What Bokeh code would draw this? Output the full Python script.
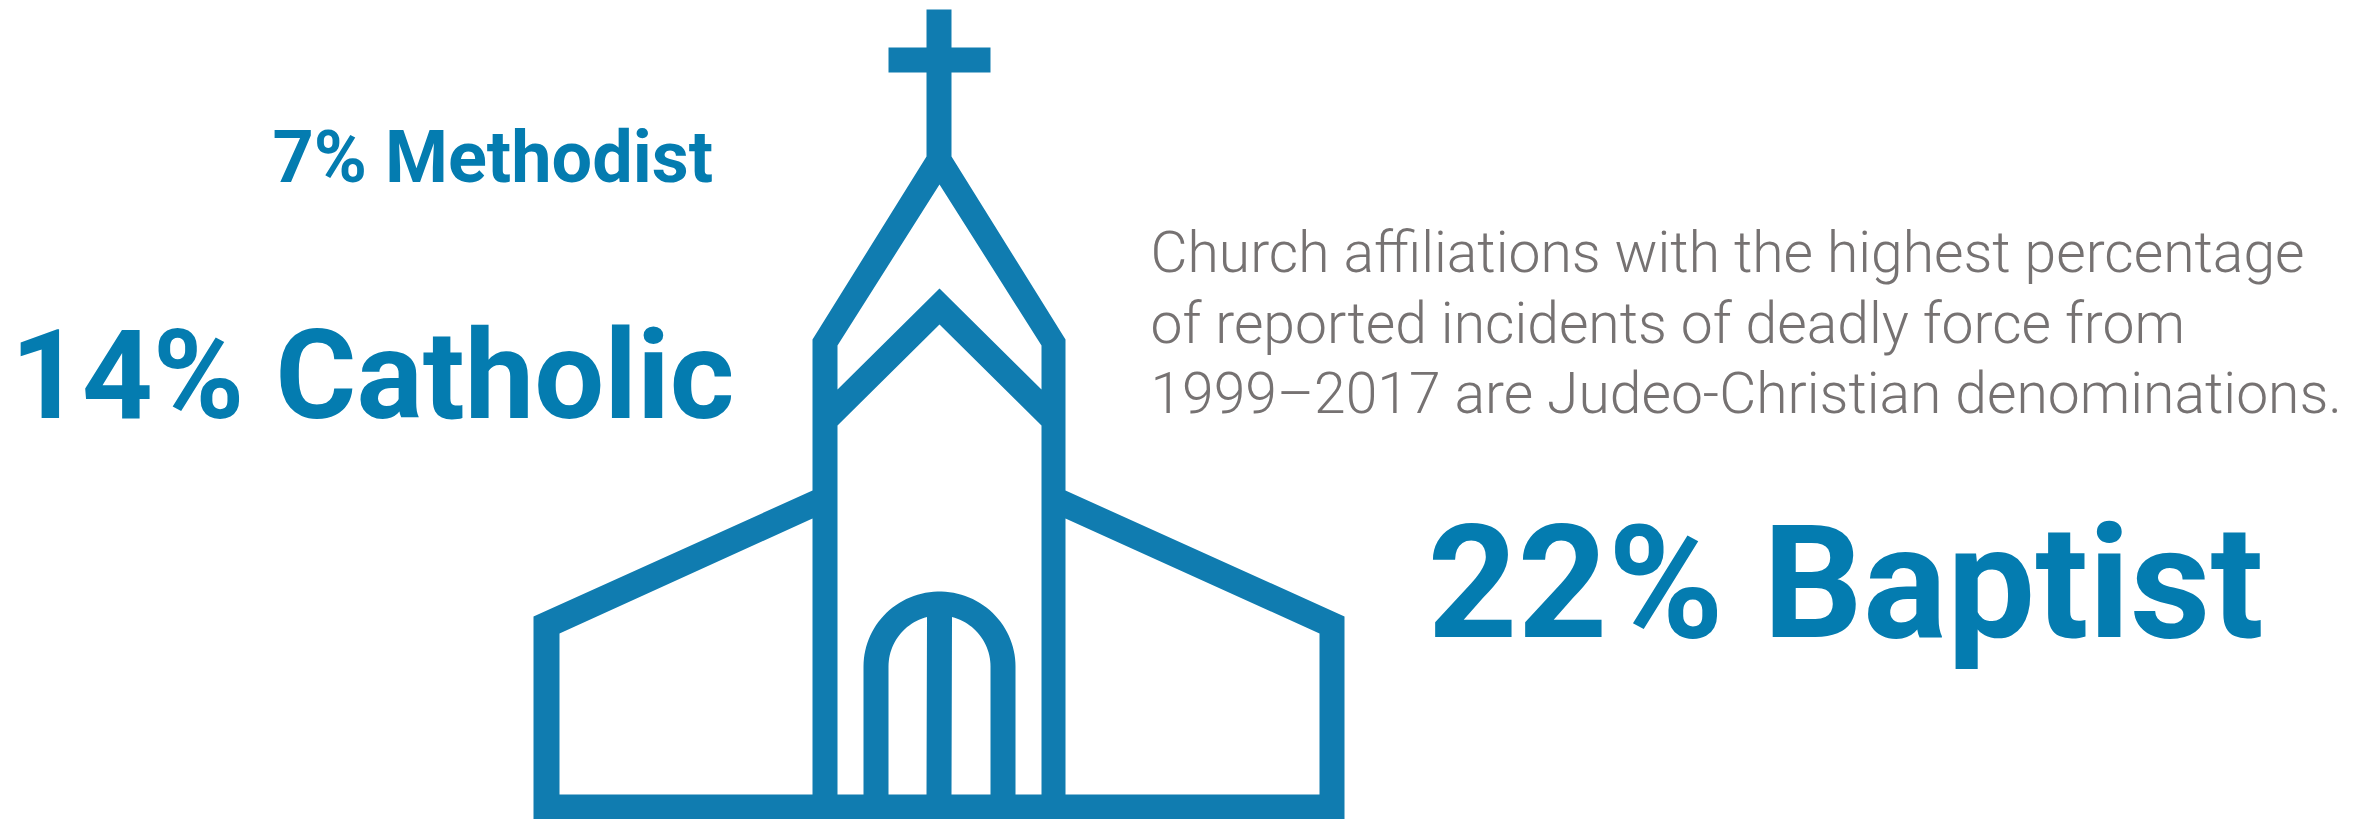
import numpy as np
from bokeh.plotting import figure
from bokeh.models import Range1d
from bokeh.core.properties import value
from bokeh.embed import file_html
from bokeh.resources import INLINE

# ---- data ----
denominations = ["Methodist", "Catholic", "Baptist"]
percentages = [7, 14, 22]
caption_lines = [
    "Church affiliations with the highest percentage",
    "of reported incidents of deadly force from",
    "1999\u20132017 are Judeo-Christian denominations.",
]

# ---- layout (reference pixel coordinates) ----
label_x = [272, 10, 1427]
label_y = [157, 375, 582]
label_size = ["72px", "124px", "157px"]
caption_x = [1150, 1150, 1150]
caption_y = [252, 323, 393]

BLUE = "#047cb0"
CHURCH = "#107cb0"
GREY = "#767272"
BLUE_FONT = "Roboto"
GREY_FONT = "Roboto Light"

# ---- church icon outline ----
outer_x = [926, 951, 951, 990, 990, 951, 951, 1065, 1065, 1344, 1344, 533, 533, 812, 812, 926, 926, 888, 888, 926]
outer_y = [9, 9, 47, 47, 72, 72, 156, 339, 490, 616, 830, 830, 616, 490, 339, 156, 72, 72, 47, 47]
gable_x = [939, 1041, 1041, 939, 837, 837]
gable_y = [184, 345, 389, 288, 389, 345]
lwing_x = [812, 812, 559, 559]
lwing_y = [518, 794, 794, 633]
rwing_x = [1065, 1319, 1319, 1065]
rwing_y = [518, 633, 794, 794]

cx, spring = 939, 666
t_outer = np.linspace(0, np.pi, 60)
arch_x = list(cx + 76 * np.cos(t_outer))
arch_y = list(spring - 75 * np.sin(t_outer))
tower_x = [939, 1041, 1041, 1015] + arch_x + [863, 837, 837]
tower_y = [324, 425, 794, 794] + arch_y + [794, 794, 425]

R = 51
t_start = np.arccos(12.5 / R)
t_r = np.linspace(t_start, 0, 25)
t_l = np.linspace(np.pi, np.pi - t_start, 25)
door_r_x = [951] + list(cx + R * np.cos(t_r)) + [990, 951]
door_r_y = [794] + list(spring - R * np.sin(t_r)) + [794, 794]
door_l_x = [888] + list(cx + R * np.cos(t_l)) + [926, 888]
door_l_y = [794] + list(spring - R * np.sin(t_l)) + [794, 794]

p = figure(width=2361, height=819, output_backend="svg", toolbar_location=None,
           x_range=Range1d(0, 2361), y_range=Range1d(819, 0), min_border=0)
p.axis.visible = False
p.grid.visible = False
p.outline_line_color = None

p.multi_polygons(
    xs=[[[outer_x, gable_x, tower_x, lwing_x, rwing_x, door_l_x, door_r_x]]],
    ys=[[[outer_y, gable_y, tower_y, lwing_y, rwing_y, door_l_y, door_r_y]]],
    fill_color=CHURCH, line_color=None,
)

labels = [f"{a}% {b}" for a, b in zip(percentages, denominations)]
for t, x, y, s in zip(labels, label_x, label_y, label_size):
    p.text(x=[x], y=[y], text=[t], text_color=BLUE, text_font=value(BLUE_FONT),
           text_font_style="bold", text_font_size=s,
           text_baseline="alphabetic", text_align="left")

p.text(x=caption_x, y=caption_y, text=caption_lines, text_color=GREY,
       text_font=value(GREY_FONT), text_font_size="57px",
       text_baseline="alphabetic", text_align="left")

open("out.html", "w").write(file_html(p, INLINE))
